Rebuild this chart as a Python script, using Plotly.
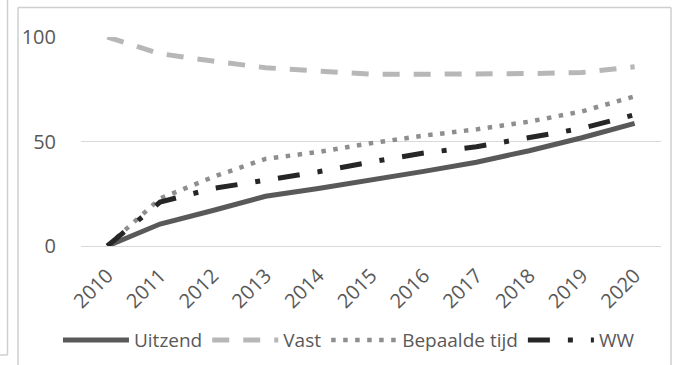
import plotly.graph_objects as go

years = ["2010", "2011", "2012", "2013", "2014", "2015", "2016", "2017", "2018", "2019", "2020"]
uitzend = [0, 10.5, 17, 23.8, 27.5, 31.4, 35.7, 40.1, 45.6, 51.8, 58.7]
vast = [100, 92, 88.5, 85.3, 83.7, 82.2, 82.2, 82.2, 82.5, 83.0, 85.8]
bepaalde_tijd = [0, 22.7, 33, 41.7, 45, 49.2, 52.8, 55.8, 59.5, 64.4, 71.6]
ww = [0, 21, 27.5, 31.5, 35.5, 40.2, 44.5, 47.5, 52, 56.3, 62.8]

W, H = 681, 365
L, R, T, B = 81, 20, 37, 119
PW, PH = W - L - R, H - T - B

def px(x):
    return (x - L) / PW

def py(y):
    return (H - B - y) / PH

fig = go.Figure()
fig.add_trace(go.Scatter(x=years, y=uitzend, name="Uitzend", mode="lines",
                         line=dict(color="#595959", width=5)))
fig.add_trace(go.Scatter(x=years, y=vast, name="Vast", mode="lines",
                         line=dict(color="#B7B7B7", width=5, dash="17px,14px")))
fig.add_trace(go.Scatter(x=years, y=bepaalde_tijd, name="Bepaalde tijd", mode="lines",
                         line=dict(color="#8E8E8E", width=4.5, dash="4.5px,7.5px")))
fig.add_trace(go.Scatter(x=years, y=ww, name="WW", mode="lines",
                         line=dict(color="#262626", width=5, dash="22px,18px,5px,18px")))

font = dict(family="Open Sans", size=20, color="#595959")
legend_font = dict(family="Open Sans", size=19, color="#595959")

frame = dict(color="#CFCFCF", width=1.5)

fig.update_layout(
    width=W, height=H,
    margin=dict(l=L, r=R, t=T, b=B, pad=0, autoexpand=False),
    paper_bgcolor="white", plot_bgcolor="white",
    font=font,
    showlegend=True,
    legend=dict(orientation="h", x=0.462, xanchor="center", y=-0.45, yanchor="middle",
                font=legend_font, itemwidth=66, tracegroupgap=0, bgcolor="rgba(0,0,0,0)"),
    xaxis=dict(type="category", range=[-0.5, 10.5], showgrid=False, showline=False,
               zeroline=False, ticks="", tickangle=-45, tickfont=font,
               ticklabelstandoff=13),
    yaxis=dict(range=[0, 100], dtick=50, tick0=0, showgrid=True, gridcolor="#D9D9D9",
               gridwidth=1, zeroline=True, zerolinecolor="#D9D9D9", zerolinewidth=1,
               showline=False, ticks="", tickfont=font, ticklabelstandoff=24),
    shapes=[
        dict(type="line", xref="paper", yref="paper", x0=px(18), x1=px(671),
             y0=py(7.5), y1=py(7.5), line=frame),
        dict(type="line", xref="paper", yref="paper", x0=px(18), x1=px(18),
             y0=py(7.5), y1=py(380), line=frame),
        dict(type="line", xref="paper", yref="paper", x0=px(671), x1=px(671),
             y0=py(7.5), y1=py(380), line=frame),
        dict(type="line", xref="paper", yref="paper", x0=px(7.5), x1=px(7.5),
             y0=py(-5), y1=py(355), line=frame),
        dict(type="line", xref="paper", yref="paper", x0=px(-5), x1=px(7.5),
             y0=py(355), y1=py(355), line=frame),
    ],
)

fig.write_html("out.html", config={"displayModeBar": False},
               post_script="document.body.style.margin='0';document.body.style.overflow='hidden';")
